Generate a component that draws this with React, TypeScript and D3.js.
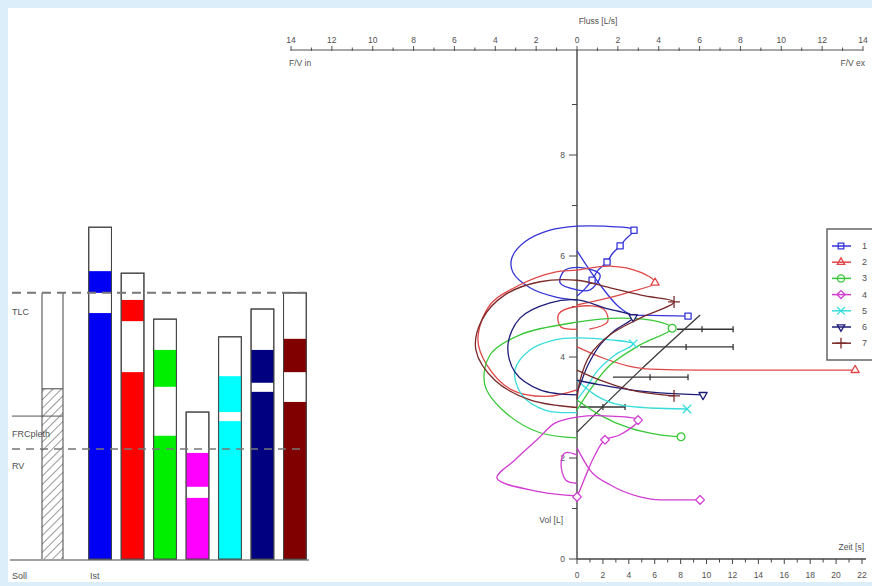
import * as d3 from "d3";

type P = [number, number];

// ---- axes ----
const flowTicks = d3.range(-14, 15, 1);
const volTicks = d3.range(0, 10, 1);
const timeTicks = d3.range(0, 23, 1);

// ---- body box (left panel), volumes in L ----
const sollTLC = 5.27;
const sollFRC = 2.83;
const sollRV = 2.18;
const sollHatch = 3.37;

const barIds = ["1", "2", "3", "4", "5", "6", "7"];
const barLow = [4.87, 3.7, 2.44, 1.21, 2.73, 3.31, 3.11];
const barGap = [5.27, 4.71, 3.41, 1.43, 2.91, 3.49, 3.7];
const barUpper = [5.7, 5.13, 4.14, 2.1, 3.62, 4.14, 4.36];
const barTop = [6.57, 5.66, 4.75, 2.91, 4.4, 4.95, 5.27];
const barColors = ["#0000f5", "#ff0000", "#00ee00", "#ff00ff", "#00ffff", "#000080", "#800000"];

// ---- flow / volume loops (flow L/s, vol L) ----
const loop1: P[] = [[0, 5.13], [-1.08, 5.19], [-2.3, 5.37], [-3.14, 5.68], [-3.19, 5.96], [-2.55, 6.28], [-1.32, 6.51], [0, 6.59], [1.37, 6.59], [2.6, 6.55], [2.79, 6.51], [2.35, 6.32], [2.11, 6.2], [1.72, 6.04], [1.47, 5.88], [1.03, 5.72], [0.74, 5.52], [0.34, 5.33], [0, 5.21]];
const inner1: P[] = [[0, 5.33], [-0.83, 5.47], [-0.59, 5.72], [0.39, 5.76], [1.13, 5.62], [0.64, 5.33], [0, 5.33]];
const marks1: P[] = [[2.79, 6.51], [2.11, 6.2], [1.47, 5.88], [0.74, 5.52]];
const time1: P[] = [[0, 6.1], [1.78, 5.43], [3.2, 5.0], [4.32, 4.83], [6.5, 4.82], [8.57, 4.81]];

const loop2: P[] = [[0, 3.35], [-1.5, 3.22], [-3.2, 3.35], [-4.41, 3.84], [-4.85, 4.34], [-4.26, 5.03], [-2.79, 5.43], [-1.08, 5.68], [0, 5.72], [1.62, 5.8], [3.09, 5.68], [3.82, 5.47], [2.6, 5.29], [1.13, 5.13], [0, 5.03]];
const inner2: P[] = [[0, 4.55], [-0.8, 4.6], [-0.9, 4.85], [0, 5.0], [1.3, 4.95], [1.5, 4.7], [0.6, 4.55]];
const marks2: P[] = [[3.82, 5.47]];
const time2: P[] = [[0, 4.2], [2.0, 3.98], [4.0, 3.82], [5.64, 3.76], [9.5, 3.74], [21.47, 3.74]];

const loop3: P[] = [[0, 2.4], [-1.81, 2.5], [-3.53, 2.91], [-4.51, 3.45], [-4.26, 4.04], [-2.79, 4.44], [0, 4.69], [2.11, 4.77], [4.07, 4.69], [4.66, 4.57], [3.09, 4.24], [1.62, 3.84], [0.64, 3.35], [0, 2.95]];
const marks3: P[] = [[4.66, 4.57]];
const time3: P[] = [[0, 3.15], [1.78, 2.85], [4.09, 2.59], [6.41, 2.46], [8.03, 2.42]];

const loop4: P[] = [[0, 1.25], [-1.81, 1.33], [-3.92, 1.6], [-3.04, 1.96], [-1.96, 2.36], [-1.08, 2.69], [0, 2.81], [1.62, 2.83], [2.99, 2.75], [2.11, 2.46], [1.37, 2.36], [0.88, 2.06], [0.54, 1.76], [0.15, 1.37], [0, 1.23]];
const inner4: P[] = [[0, 2.06], [-0.59, 2.1], [-0.78, 1.88], [-0.54, 1.56], [0, 1.5]];
const marks4: P[] = [[2.99, 2.75], [1.37, 2.36], [0, 1.23]];
const time4: P[] = [[0, 2.2], [1.0, 1.76], [2.55, 1.47], [4.86, 1.23], [6.41, 1.17], [9.5, 1.17]];

const loop5: P[] = [[0, 2.9], [-1.57, 2.95], [-2.7, 3.25], [-3.04, 3.74], [-2.3, 4.14], [-1.08, 4.34], [0, 4.38], [1.62, 4.34], [2.75, 4.26], [1.86, 4.04], [1.03, 3.74], [0.54, 3.45], [0, 3.15]];
const marks5: P[] = [[2.75, 4.26]];
const time5: P[] = [[0, 3.54], [1.39, 3.25], [3.32, 3.05], [5.64, 2.99], [8.49, 2.97]];

const loop6: P[] = [[0, 3.25], [-1.81, 3.35], [-3.04, 3.7], [-3.38, 4.24], [-2.79, 4.77], [-1.32, 5.07], [0, 5.13], [1.37, 4.97], [2.75, 4.79], [1.86, 4.53], [1.13, 4.24], [0.54, 3.84], [0.15, 3.45], [0, 3.31]];
const marks6: P[] = [[2.75, 4.79]];
const time6: P[] = [[0, 3.54], [1.78, 3.45], [4.09, 3.35], [6.41, 3.29], [9.73, 3.25]];

const loop7: P[] = [[0, 3.0], [-2.3, 3.15], [-4.02, 3.54], [-4.95, 4.14], [-4.66, 4.73], [-3.53, 5.23], [-1.81, 5.49], [0, 5.52], [1.62, 5.37], [3.33, 5.21], [4.75, 5.09], [3.09, 4.77], [1.62, 4.44], [0.64, 4.04], [0.15, 3.54], [0, 3.15]];
const marks7: P[] = [[4.75, 5.09]];
const time7: P[] = [[0, 3.74], [1.78, 3.54], [4.09, 3.35], [7.49, 3.23]];

// dark tidal segments (time s, vol L) and a dark diagonal (flow, vol)
const tidalA: P[] = [[7.72, 4.55], [9.65, 4.55], [12.05, 4.55]];
const tidalB: P[] = [[4.86, 4.2], [8.42, 4.2], [12.05, 4.2]];
const tidalC: P[] = [[2.78, 3.6], [5.64, 3.6], [8.57, 3.6]];
const tidalD: P[] = [[0.23, 3.01], [2.0, 3.01], [3.71, 3.01]];
const diagonal: P[] = [[0, 2.51], [3, 3.7], [6.03, 4.83]];

const series = [
  { name: "1", color: "#3535d8", sym: d3.symbolSquare2, rot: 0, loop: loop1, inner: inner1, marks: marks1, time: time1 },
  { name: "2", color: "#e04848", sym: d3.symbolTriangle2, rot: 0, loop: loop2, inner: inner2, marks: marks2, time: time2 },
  { name: "3", color: "#38c838", sym: d3.symbolCircle, rot: 0, loop: loop3, inner: null, marks: marks3, time: time3 },
  { name: "4", color: "#d23cd2", sym: d3.symbolDiamond2, rot: 0, loop: loop4, inner: inner4, marks: marks4, time: time4 },
  { name: "5", color: "#38dcdc", sym: d3.symbolTimes, rot: 0, loop: loop5, inner: null, marks: marks5, time: time5 },
  { name: "6", color: "#1e1e78", sym: d3.symbolTriangle2, rot: 180, loop: loop6, inner: null, marks: marks6, time: time6 },
  { name: "7", color: "#7a2a2a", sym: d3.symbolPlus, rot: 0, loop: loop7, inner: null, marks: marks7, time: time7 },
];

const W = 872;
const H = 586;
const font = "'Liberation Sans', Arial, sans-serif";
const txt = "#505050";

export default function App() {
  const fx = d3.scaleLinear().domain([-14, 14]).range([291, 863]);
  const vy = d3.scaleLinear().domain([0, 8]).range([559, 155]);
  const tx = d3.scaleLinear().domain([0, 22]).range([577, 862]);
  const bx = d3.scaleBand().domain(barIds).range([79, 316]).paddingInner(0.3).paddingOuter(0.3);

  const flowLine = d3.line<P>().x((d) => fx(d[0])).y((d) => vy(d[1])).curve(d3.curveCatmullRom.alpha(0.5));
  const timeLine = d3.line<P>().x((d) => tx(d[0])).y((d) => vy(d[1])).curve(d3.curveMonotoneX);
  const straight = d3.line<P>().x((d) => tx(d[0])).y((d) => vy(d[1]));

  const sym = (type: d3.SymbolType, size = 48) => d3.symbol().type(type).size(size)() as string;

  const x0 = fx(0);
  const yTop = 50;
  const yBase = vy(0);

  const legendY = d3.range(7).map((i) => 246 + i * 16.2);

  return (
    <svg width={W} height={H} style={{ position: "absolute", left: 0, top: 0 }} fontFamily={font}>
      <defs>
        <pattern id="hatch" patternUnits="userSpaceOnUse" width="6" height="6" patternTransform="rotate(45)">
          <line x1="0" y1="0" x2="0" y2="6" stroke="#333" strokeWidth="1" />
        </pattern>
      </defs>
      <rect x={0} y={0} width={W} height={H} fill="#ddeefb" />
      <rect x={8} y={8} width={W - 8} height={574} fill="#fff" />

      {/* ---------- left body box panel ---------- */}
      <g>
        <rect x={42} y={vy(sollHatch)} width={21} height={yBase - vy(sollHatch)} fill="url(#hatch)" />
        <line x1={42} x2={42} y1={vy(sollTLC)} y2={yBase} stroke="#444" />
        <line x1={63} x2={63} y1={vy(sollTLC)} y2={yBase} stroke="#444" />
        <line x1={42} x2={63} y1={vy(sollHatch)} y2={vy(sollHatch)} stroke="#444" />
        <line x1={12} x2={63} y1={vy(sollFRC)} y2={vy(sollFRC)} stroke="#555" />
        {barIds.map((id, i) => {
          const x = bx(id) as number;
          const w = bx.bandwidth();
          return (
            <g key={id}>
              <rect x={x} y={vy(barTop[i])} width={w} height={yBase - vy(barTop[i])} fill="#fff" stroke="#444" />
              <rect x={x} y={vy(barLow[i])} width={w} height={yBase - vy(barLow[i])} fill={barColors[i]} />
              <rect x={x} y={vy(barUpper[i])} width={w} height={vy(barGap[i]) - vy(barUpper[i])} fill={barColors[i]} />
              <rect x={x} y={vy(barTop[i])} width={w} height={yBase - vy(barTop[i])} fill="none" stroke="#444" />
            </g>
          );
        })}
        <line x1={12} x2={306} y1={vy(sollTLC)} y2={vy(sollTLC)} stroke="#777" strokeWidth={2} strokeDasharray="9,6" />
        <line x1={12} x2={306} y1={vy(sollRV)} y2={vy(sollRV)} stroke="#777" strokeWidth={1.5} strokeDasharray="8,6" />
        <line x1={10} x2={309} y1={yBase + 1} y2={yBase + 1} stroke="#444" strokeWidth={1.2} />
        <g fontSize={9} fill={txt}>
          <text x={12} y={vy(sollTLC) + 22}>TLC</text>
          <text x={12} y={vy(sollFRC) + 21}>FRCpleth</text>
          <text x={12} y={vy(sollRV) + 20}>RV</text>
          <text x={12} y={579}>Soll</text>
          <text x={90} y={579}>Ist</text>
        </g>
      </g>

      {/* ---------- top flow axis ---------- */}
      <g stroke="#555">
        <line x1={fx(-14)} x2={fx(14)} y1={yTop} y2={yTop} strokeWidth={1.2} />
        {flowTicks.map((t) => (
          <line key={t} x1={fx(t)} x2={fx(t)} y1={yTop - (t % 2 === 0 ? 4 : 2.5)} y2={yTop + 1} />
        ))}
      </g>
      <g fontSize={8.5} fill={txt} textAnchor="middle">
        {flowTicks.filter((t) => t % 2 === 0).map((t) => (
          <text key={t} x={fx(t)} y={43}>{Math.abs(t)}</text>
        ))}
        <text x={598} y={24}>Fluss [L/s]</text>
        <text x={289} y={66} textAnchor="start">F/V in</text>
        <text x={865} y={66} textAnchor="end">F/V ex</text>
      </g>

      {/* ---------- volume axis ---------- */}
      <g stroke="#444">
        <line x1={x0} x2={x0} y1={yTop} y2={yBase} strokeWidth={1.4} />
        {volTicks.map((v) => (
          <line key={v} x1={x0 - (v % 2 === 0 ? 8 : 5)} x2={x0} y1={vy(v)} y2={vy(v)} />
        ))}
      </g>
      <g fontSize={8.5} fill={txt} textAnchor="end">
        {volTicks.filter((v) => v % 2 === 0).map((v) => (
          <text key={v} x={x0 - 12} y={vy(v) + 3}>{v}</text>
        ))}
        <text x={x0 - 14} y={523}>Vol [L]</text>
      </g>

      {/* ---------- time axis ---------- */}
      <g stroke="#444">
        <line x1={x0} x2={866} y1={yBase} y2={yBase} strokeWidth={1.4} />
        {timeTicks.map((t) => (
          <line key={t} x1={tx(t)} x2={tx(t)} y1={yBase} y2={yBase + (t % 2 === 0 ? 5 : 3.5)} />
        ))}
      </g>
      <g fontSize={8.5} fill={txt} textAnchor="middle">
        {timeTicks.filter((t) => t % 2 === 0).map((t) => (
          <text key={t} x={tx(t)} y={578}>{t}</text>
        ))}
        <text x={864} y={550} textAnchor="end">Zeit [s]</text>
      </g>

      {/* ---------- curves ---------- */}
      <g fill="none" strokeWidth={1.3} strokeLinejoin="round">
        <path d={straight(tidalA) as string} stroke="#333" />
        <path d={straight(tidalB) as string} stroke="#333" />
        <path d={straight(tidalC) as string} stroke="#333" />
        <path d={straight(tidalD) as string} stroke="#333" />
        {[tidalA, tidalB, tidalC, tidalD].map((seg, i) =>
          seg.slice(1).map((d, j) => (
            <line key={`${i}-${j}`} x1={tx(d[0])} x2={tx(d[0])} y1={vy(d[1]) - 3} y2={vy(d[1]) + 3} stroke="#333" />
          ))
        )}
        <path d={flowLine(diagonal) as string} stroke="#3a3a3a" />
        {series.map((s) => (
          <g key={s.name} stroke={s.color}>
            <path d={flowLine(s.loop) as string} />
            {s.inner && <path d={flowLine(s.inner) as string} />}
            <path d={timeLine(s.time) as string} />
            {s.marks.map((m, i) => (
              <path key={i} d={sym(s.sym)} transform={`translate(${fx(m[0])},${vy(m[1])}) rotate(${s.rot})`} fill="#fff" />
            ))}
            {(() => {
              const e = s.time[s.time.length - 1];
              return <path d={sym(s.sym)} transform={`translate(${tx(e[0])},${vy(e[1])}) rotate(${s.rot})`} fill="#fff" />;
            })()}
          </g>
        ))}
      </g>

      {/* ---------- legend ---------- */}
      <g>
        <rect x={827} y={229} width={60} height={131} fill="#fff" stroke="#666" strokeWidth={1.5} />
        {series.map((s, i) => (
          <g key={s.name}>
            <line x1={832} x2={851} y1={legendY[i]} y2={legendY[i]} stroke={s.color} strokeWidth={1.5} />
            <path d={sym(s.sym, 40)} transform={`translate(841,${legendY[i]}) rotate(${s.rot})`} fill="none" stroke={s.color} strokeWidth={1.3} />
            <text x={862} y={legendY[i] + 3} fontSize={9} fill={txt}>{s.name}</text>
          </g>
        ))}
      </g>
    </svg>
  );
}
